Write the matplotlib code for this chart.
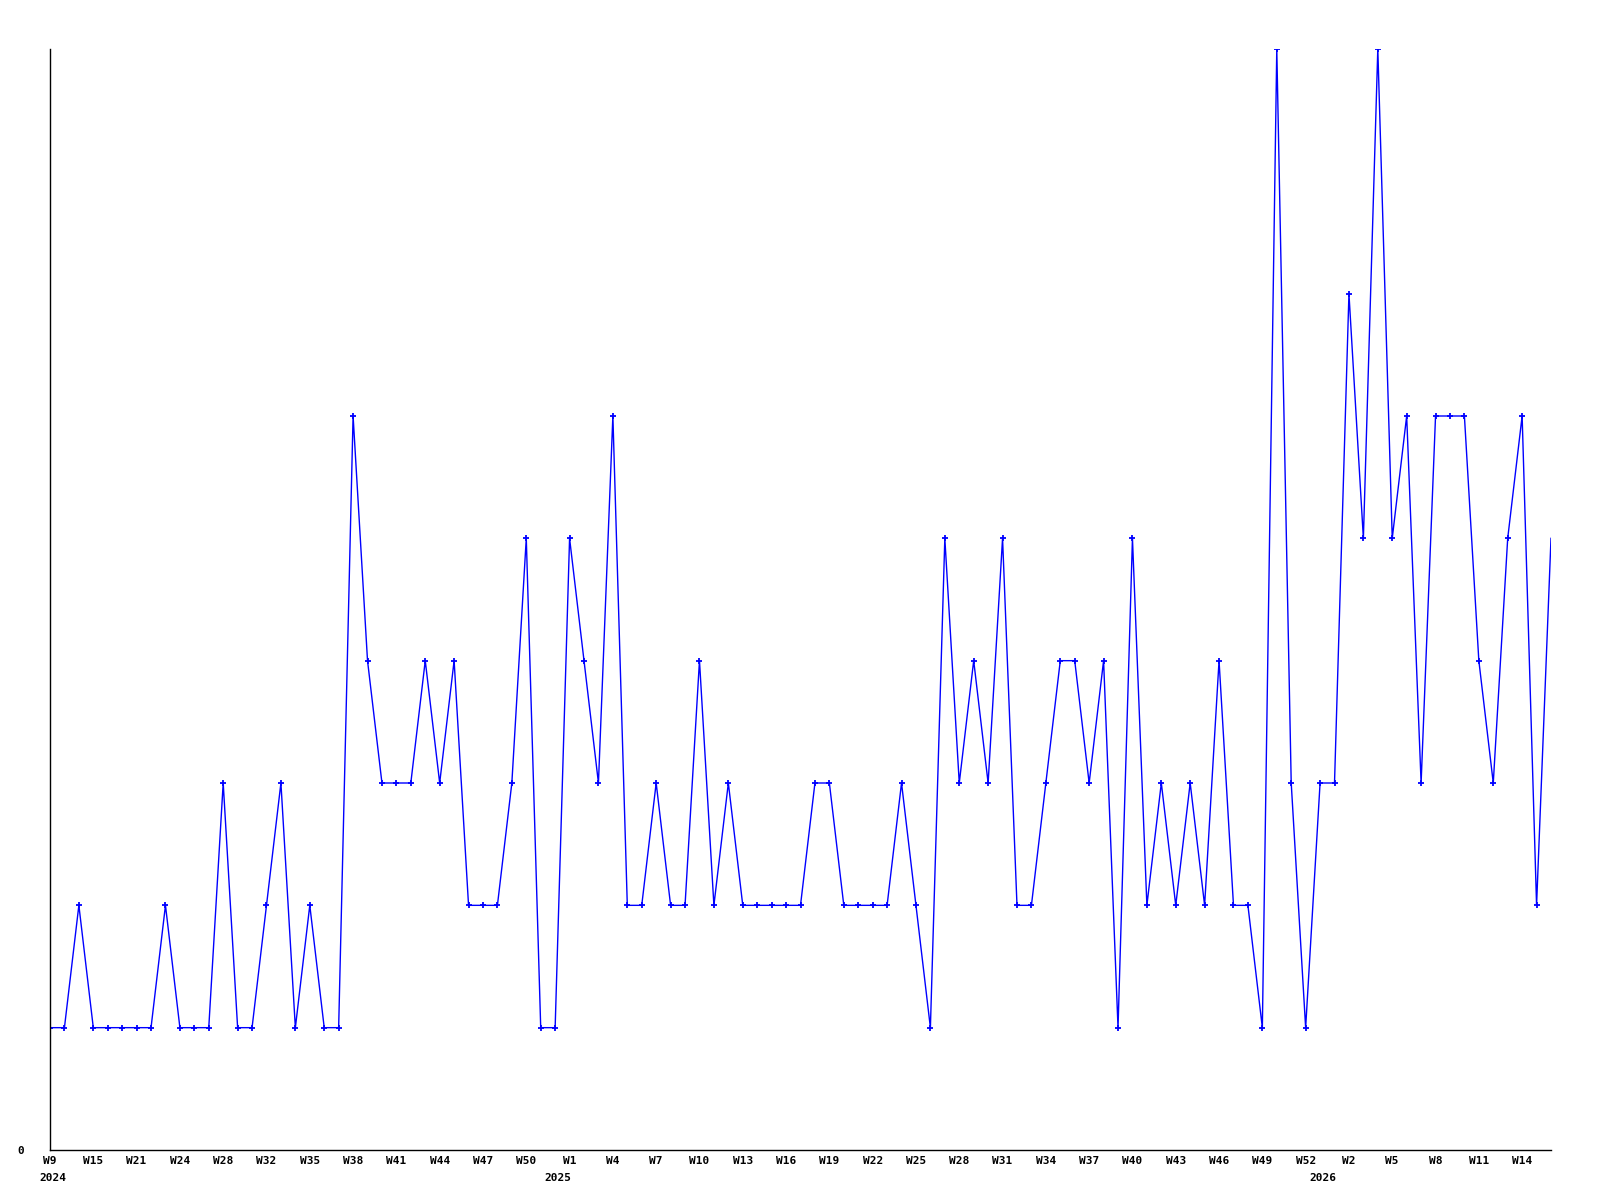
import numpy as np
import matplotlib
matplotlib.use("Agg")
import matplotlib.pyplot as plt

# weekly counts, one entry per week that has data
counts = [1, 1, 2, 1, 1, 1, 1, 1, 2, 1,
          1, 1, 3, 1, 1, 2, 3, 1, 2, 1,
          1, 6, 4, 3, 3, 3, 4, 3, 4, 2,
          2, 2, 3, 5, 1, 1, 5, 4, 3, 6,
          2, 2, 3, 2, 2, 4, 2, 3, 2, 2,
          2, 2, 2, 3, 3, 2, 2, 2, 2, 3,
          2, 1, 5, 3, 4, 3, 5, 2, 2, 3,
          4, 4, 3, 4, 1, 5, 2, 3, 2, 3,
          2, 4, 2, 2, 1, 9, 3, 1, 3, 3,
          7, 5, 9, 5, 6, 3, 6, 6, 6, 4,
          3, 5, 6, 2, 5]

# every third week gets a label
week_labels = ["W9", "W15", "W21", "W24", "W28", "W32", "W35", "W38", "W41",
               "W44", "W47", "W50",
               "W1", "W4", "W7", "W10", "W13", "W16", "W19", "W22", "W25",
               "W28", "W31", "W34", "W37", "W40", "W43", "W46", "W49", "W52",
               "W2", "W5", "W8", "W11", "W14"]
years = ["2024", "2025", "2026"]
year_index = [0.2, 35.2, 88.2]

W, H = 1600, 1200
fig = plt.figure(figsize=(W / 100, H / 100), dpi=100)
ax = fig.add_axes([50 / W, 1 - 1150 / H, (1551 - 50) / W, (1150 - 49) / H])

x = np.arange(len(counts))
ax.plot(x, counts, color="#0000ff", lw=1.0)
ax.plot(x[:-1], counts[:-1], ls="none", marker="+", ms=4, mew=1.3,
        color="#0000ff")

ax.set_xlim(0, len(counts) - 1)
ax.set_ylim(0, max(counts))

font = dict(family="DejaVu Sans Mono", weight="bold", size=8)
ax.set_xticks(x[::3])
ax.set_xticklabels(week_labels, **font)
ax.set_yticks([0])
ax.set_yticklabels(["0"], **font)
ax.tick_params(axis="x", length=0, pad=4)
ax.tick_params(axis="y", length=0, pad=18.5)

for yr, i in zip(years, year_index):
    ax.text(i, -0.0205, yr, transform=ax.get_xaxis_transform(),
            ha="center", va="top", **font)

ax.spines["top"].set_visible(False)
ax.spines["right"].set_visible(False)
for s in ("left", "bottom"):
    ax.spines[s].set_linewidth(1.0)
    ax.spines[s].set_color("black")

fig.savefig("out.png", dpi=100)
